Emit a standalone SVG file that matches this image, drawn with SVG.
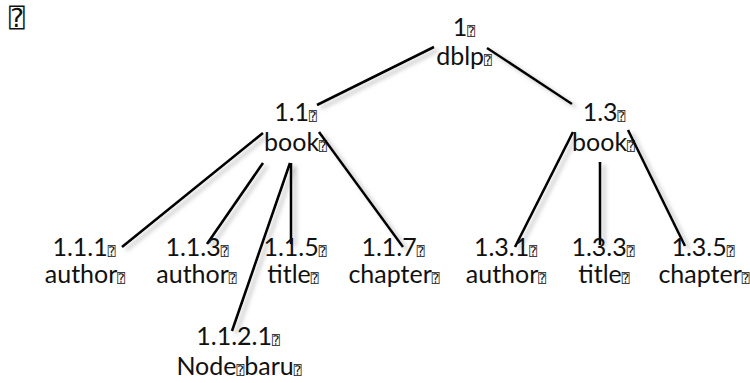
<svg xmlns="http://www.w3.org/2000/svg" width="750" height="383" viewBox="0 0 750 383">
<defs>
<style>
text{font-family:Lato,"Liberation Sans",sans-serif;font-size:25px;fill:#111;text-anchor:middle}
.q{font-family:"DejaVu Sans Mono","DejaVu Sans",monospace;font-size:13px}
.big{font-family:"DejaVu Sans Mono","DejaVu Sans",monospace;font-size:26px;text-anchor:start}
#connectors line{stroke:#000;stroke-width:2.6;stroke-linecap:butt}
</style>
<filter id="sh" x="-20%" y="-20%" width="140%" height="140%">
<feDropShadow dx="4" dy="3" stdDeviation="2.2" flood-color="#888" flood-opacity="0.55"/>
</filter>
</defs>
<rect width="750" height="383" fill="#fff"/>
<text class="big" x="9" y="27">⍰</text>
<g id="connectors" filter="url(#sh)">
<line x1="434" y1="47" x2="317" y2="105"/>
<line x1="487" y1="48" x2="572" y2="104"/>
<line x1="263" y1="133" x2="122" y2="247"/>
<line x1="263" y1="163" x2="207" y2="244"/>
<line x1="290" y1="163" x2="232" y2="331"/>
<line x1="291" y1="163" x2="291" y2="244"/>
<line x1="319" y1="132" x2="403" y2="247"/>
<line x1="573" y1="132" x2="515" y2="247"/>
<line x1="600" y1="162" x2="600" y2="245"/>
<line x1="628" y1="130" x2="685" y2="246"/>
</g>
<g id="n1"><text x="464" y="36">1<tspan class="q">⍰</tspan></text><text x="464" y="65">dblp<tspan class="q">⍰</tspan></text></g>
<g id="n1_1"><text x="295.5" y="121">1.1<tspan class="q">⍰</tspan></text><text x="295.5" y="151">book<tspan class="q">⍰</tspan></text></g>
<g id="n1_3"><text x="604" y="121">1.3<tspan class="q">⍰</tspan></text><text x="603.5" y="151">book<tspan class="q">⍰</tspan></text></g>
<g id="n1_1_1"><text x="84" y="256">1.1.1<tspan class="q">⍰</tspan></text><text x="85" y="283">author<tspan class="q">⍰</tspan></text></g>
<g id="n1_1_3"><text x="197" y="256">1.1.3<tspan class="q">⍰</tspan></text><text x="196.5" y="283">author<tspan class="q">⍰</tspan></text></g>
<g id="n1_1_5"><text x="295" y="256">1.1.5<tspan class="q">⍰</tspan></text><text x="293" y="283">title<tspan class="q">⍰</tspan></text></g>
<g id="n1_1_7"><text x="393" y="256">1.1.7<tspan class="q">⍰</tspan></text><text x="394" y="283">chapter<tspan class="q">⍰</tspan></text></g>
<g id="n1_3_1"><text x="505.5" y="256">1.3.1<tspan class="q">⍰</tspan></text><text x="506" y="283">author<tspan class="q">⍰</tspan></text></g>
<g id="n1_3_3"><text x="603" y="256">1.3.3<tspan class="q">⍰</tspan></text><text x="604" y="283">title<tspan class="q">⍰</tspan></text></g>
<g id="n1_3_5"><text x="703" y="256">1.3.5<tspan class="q">⍰</tspan></text><text x="704" y="283">chapter<tspan class="q">⍰</tspan></text></g>
<g id="n1_1_2_1"><text x="238" y="345">1.1.2.1<tspan class="q">⍰</tspan></text><text x="239" y="375">Node<tspan class="q">⍰</tspan>baru<tspan class="q">⍰</tspan></text></g>
</svg>
